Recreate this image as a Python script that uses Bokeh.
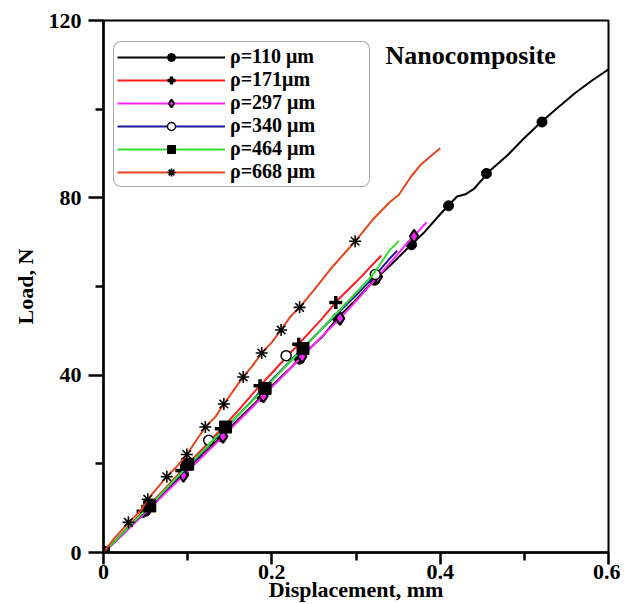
from bokeh.plotting import figure
from bokeh.models import Range1d, FixedTicker, Legend, LegendItem, Label
from bokeh.embed import file_html
from bokeh.resources import INLINE

# ---------------- data ----------------
x_ticks = [0, 0.2, 0.4, 0.6]
x_tick_labels = ["0", "0.2", "0.4", "0.6"]
x_minor = [0.1, 0.3, 0.5]
y_ticks = [0, 40, 80, 120]
y_tick_labels = ["0", "40", "80", "120"]
y_minor = [20, 60, 100]

labels = ["ρ=110 μm", "ρ=171μm", "ρ=297 μm", "ρ=340 μm", "ρ=464 μm", "ρ=668 μm"]

# rho = 110 um (black, filled circles)
x110 = [0, 0.02, 0.04, 0.06, 0.08, 0.10, 0.12, 0.14, 0.16, 0.18, 0.20, 0.22, 0.24, 0.26,
        0.28, 0.30, 0.32, 0.34, 0.36, 0.38, 0.40, 0.42, 0.43, 0.44, 0.46, 0.48, 0.50,
        0.52, 0.54, 0.56, 0.58, 0.60]
y110 = [0, 3.6, 7.4, 11.1, 14.9, 18.6, 22.5, 26.1, 30.0, 33.7, 37.6, 41.2, 45.1, 48.7,
        53.3, 57.0, 61.1, 64.6, 68.4, 72.0, 76.3, 80.3, 80.8, 82.0, 86.3, 89.6, 93.5,
        97.1, 100.4, 103.6, 106.4, 109.0]
mx110 = [0, 0.05, 0.095, 0.14, 0.188, 0.233, 0.278, 0.322, 0.366, 0.410, 0.455, 0.521]
my110 = [0, 9.3, 17.7, 26.1, 35.2, 43.6, 52.9, 61.4, 69.4, 78.2, 85.5, 97.1]

# rho = 171 um (red, crosses)
x171 = [0, 0.02, 0.04, 0.06, 0.08, 0.10, 0.12, 0.14, 0.16, 0.18, 0.20, 0.22, 0.24,
        0.26, 0.28, 0.30, 0.33]
y171 = [0, 3.9, 7.9, 11.8, 15.8, 19.9, 23.8, 27.9, 32.0, 36.4, 40.5, 44.6, 48.7,
        52.8, 57.3, 61.0, 67.0]
mx171 = [0, 0.047, 0.093, 0.14, 0.186, 0.232, 0.276]
my171 = [0, 9.3, 18.5, 27.9, 37.6, 47.0, 56.4]

# rho = 297 um (magenta, diamonds)
x297 = [0, 0.02, 0.04, 0.06, 0.08, 0.10, 0.12, 0.14, 0.16, 0.18, 0.20, 0.22, 0.24,
        0.26, 0.28, 0.30, 0.32, 0.34, 0.36, 0.384]
y297 = [0, 3.5, 7.2, 10.9, 14.6, 18.3, 22.1, 25.8, 29.6, 33.4, 37.3, 41.1, 45.0,
        48.8, 52.6, 56.7, 61.0, 65.2, 69.6, 74.5]
mx297 = [0, 0.095, 0.142, 0.19, 0.236, 0.281, 0.326, 0.369]
my297 = [0, 17.4, 26.2, 35.3, 44.2, 52.8, 62.2, 71.3]

# rho = 340 um (navy, open circles)
x340 = [0, 0.02, 0.04, 0.06, 0.08, 0.10, 0.12, 0.14, 0.16, 0.18, 0.20, 0.22, 0.24,
        0.26, 0.28, 0.30, 0.32, 0.34, 0.349]
y340 = [0, 3.8, 7.6, 11.4, 15.3, 19.2, 23.1, 27.0, 31.0, 35.0, 38.9, 42.8, 46.7,
        50.6, 54.3, 58.0, 61.9, 66.3, 68.1]
mx340 = [0, 0.125, 0.217, 0.323]
my340 = [0, 25.3, 44.4, 62.7]

# rho = 464 um (green, filled squares)
x464 = [0, 0.02, 0.04, 0.06, 0.08, 0.10, 0.12, 0.14, 0.16, 0.18, 0.20, 0.22, 0.24,
        0.26, 0.28, 0.30, 0.32, 0.34, 0.351]
y464 = [0, 3.8, 7.7, 11.5, 15.5, 19.5, 23.3, 27.3, 31.0, 34.8, 38.7, 42.7, 46.6,
        50.6, 54.6, 58.6, 62.6, 68.2, 70.3]
mx464 = [0, 0.055, 0.1, 0.145, 0.192, 0.237]
my464 = [0, 10.5, 19.9, 28.3, 37.0, 46.0]

# rho = 668 um (orange, asterisks)
x668 = [0, 0.012, 0.03, 0.045, 0.0526, 0.065, 0.0752, 0.088, 0.099, 0.11, 0.121, 0.133,
        0.143, 0.155, 0.166, 0.177, 0.188, 0.2, 0.211, 0.222, 0.233, 0.25, 0.27, 0.299,
        0.32, 0.34, 0.351, 0.365, 0.377, 0.4]
y668 = [0, 3.0, 6.8, 9.6, 12.0, 14.8, 17.1, 19.6, 22.1, 25.2, 28.3, 30.6, 33.5, 36.7,
        39.6, 42.1, 45.0, 47.4, 50.2, 53.2, 55.3, 59.2, 64.0, 70.2, 75.1, 79.0, 80.7,
        84.7, 87.5, 91.2]
mx668 = [0.0296, 0.0526, 0.0752, 0.099, 0.121, 0.143, 0.166, 0.188, 0.211, 0.233, 0.299]
my668 = [6.8, 12.0, 17.1, 22.1, 28.3, 33.5, 39.6, 45.0, 50.2, 55.3, 70.2]

# ---------------- figure ----------------
FONT = "Liberation Serif"

p = figure(width=620, height=604, output_backend="svg", toolbar_location=None,
           x_range=Range1d(0, 0.6), y_range=Range1d(0, 120),
           min_border_left=103, min_border_right=12, min_border_top=20,
           min_border_bottom=52)
p.grid.visible = False
p.background_fill_color = "white"
p.border_fill_color = "white"
p.outline_line_color = "black"
p.outline_line_width = 2

series = [
    (x110, y110, mx110, my110, "black", dict(marker="circle", size=10, fill_color="black", line_color="black")),
    (x171, y171, mx171, my171, "#ff1a1a", dict(marker="cross", size=13, line_color="black", line_width=3.5)),
    (x297, y297, mx297, my297, "#ff22ff", dict(marker="diamond", size=13, fill_color="#ff22ff", line_color="black", line_width=2)),
    (x340, y340, mx340, my340, "#1a1a99", dict(marker="circle", size=10, fill_color="white", line_color="black", line_width=1.5)),
    (x464, y464, mx464, my464, "#33dd33", dict(marker="square", size=12, fill_color="black", line_color="black")),
    (x668, y668, mx668, my668, "#e5451c", dict(marker="asterisk", size=12, line_color="black", line_width=1.6)),
]

items = []
for (xs, ys, mxs, mys, col, mk), lab in zip(series, labels):
    ln = p.line(xs, ys, line_color=col, line_width=2)
    sc = p.scatter(mxs, mys, **mk)
    items.append(LegendItem(label=lab, renderers=[ln, sc]))

legend = Legend(items=items, location=(10, 365))
legend.label_text_font = FONT
legend.label_text_font_style = "bold"
legend.label_text_font_size = "20px"
legend.label_text_color = "black"
legend.glyph_width = 108
legend.glyph_height = 20
legend.label_height = 20
legend.label_width = 136
legend.label_standoff = 5
legend.padding = 3
legend.spacing = 0
legend.margin = 0
legend.border_line_color = "#555555"
legend.border_line_width = 1.5
legend.background_fill_color = "white"
legend.background_fill_alpha = 1
if "border_radius" in Legend.properties():
    legend.border_radius = 8
p.add_layout(legend, "center")

p.add_layout(Label(x=0.335, y=112.1, text="Nanocomposite", text_font=FONT,
                   text_font_style="bold", text_font_size="26px", text_color="black",
                   text_baseline="alphabetic"))

# axes
p.xaxis.ticker = FixedTicker(ticks=x_ticks, minor_ticks=x_minor)
p.yaxis.ticker = FixedTicker(ticks=y_ticks, minor_ticks=y_minor)
p.xaxis.major_label_overrides = {v: s for v, s in zip(x_ticks, x_tick_labels)}
p.yaxis.major_label_overrides = {v: s for v, s in zip(y_ticks, y_tick_labels)}
p.xaxis.axis_label = "Displacement, mm"
p.yaxis.axis_label = "Load, N"

for ax in (p.xaxis, p.yaxis):
    ax.axis_line_color = "black"
    ax.axis_line_width = 2.5
    ax.major_tick_line_color = "black"
    ax.major_tick_line_width = 2.5
    ax.minor_tick_line_color = "black"
    ax.minor_tick_line_width = 2.5
    ax.major_tick_in = 0
    ax.minor_tick_in = 0
    ax.major_label_text_font = FONT
    ax.major_label_text_font_style = "bold"
    ax.major_label_text_font_size = "22px"
    ax.major_label_text_color = "black"
    ax.axis_label_text_font = FONT
    ax.axis_label_text_font_style = "bold"
    ax.axis_label_text_font_size = "22px"
    ax.axis_label_text_color = "black"

p.xaxis.major_tick_out = 12
p.xaxis.minor_tick_out = 8
p.yaxis.major_tick_out = 15
p.yaxis.minor_tick_out = 8
p.xaxis.major_label_standoff = 0
p.xaxis.axis_label_standoff = -5
p.yaxis.major_label_standoff = 7
p.yaxis.axis_label_standoff = 8

open("out.html", "w").write(file_html(p, INLINE))
